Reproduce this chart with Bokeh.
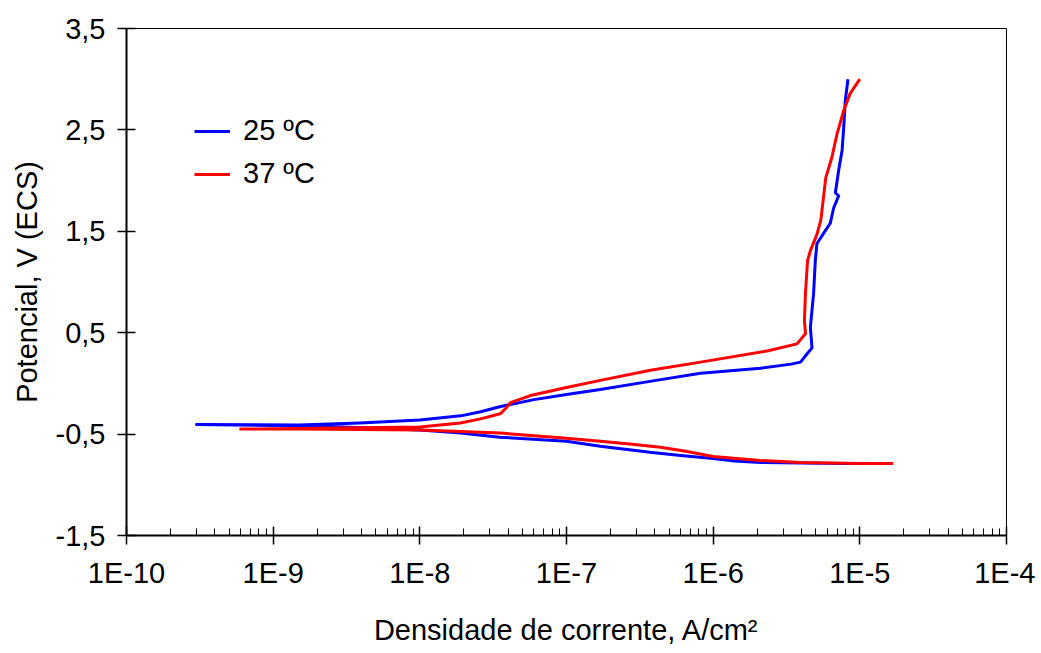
from bokeh.plotting import figure
from bokeh.models import FixedTicker, CustomJSTickFormatter, Legend, LegendItem
from bokeh.embed import file_html
from bokeh.resources import INLINE

# 25 ºC : cathodic end -> Ecorr -> anodic end
i_25 = [1.1e-5, 8.0e-6, 4.0e-6, 2.1e-6, 1.4e-6, 1.0e-6, 6.0e-7, 3.7e-7, 1.7e-7, 1.0e-7, 3.5e-8,
        1.9e-8, 1.0e-8, 3.0e-9, 1.0e-9, 3.0e-10,
        1.5e-9, 3.9e-9, 1.0e-8, 1.9e-8, 2.6e-8, 3.5e-8, 6.0e-8, 1.0e-7, 1.7e-7, 3.7e-7, 8.2e-7,
        2.1e-6, 3.4e-6, 3.94e-6, 4.36e-6, 4.72e-6, 4.6e-6, 4.84e-6, 4.97e-6, 5.1e-6, 5.66e-6,
        6.29e-6, 6.63e-6, 7.17e-6, 6.81e-6, 7.17e-6, 7.57e-6, 7.76e-6, 7.96e-6, 8.3e-6]
e_25 = [-0.79, -0.79, -0.785, -0.78, -0.765, -0.74, -0.71, -0.68, -0.62, -0.57, -0.53,
        -0.49, -0.46, -0.43, -0.415, -0.405,
        -0.41, -0.39, -0.36, -0.32, -0.28, -0.23, -0.16, -0.11, -0.06, 0.02, 0.10,
        0.15, 0.19, 0.21, 0.29, 0.35, 0.55, 0.89, 1.21, 1.38, 1.48,
        1.58, 1.73, 1.85, 1.88, 2.10, 2.30, 2.52, 2.79, 3.0]

# 37 ºC
i_37 = [1.69e-5, 1.0e-5, 3.94e-6, 2.1e-6, 1.0e-6, 6.5e-7, 4.37e-7, 2.8e-7, 1.7e-7, 1.0e-7,
        3.54e-8, 1.0e-8, 1.5e-9, 6.0e-10,
        1.5e-9, 1.0e-8, 1.89e-8, 2.59e-8, 3.54e-8, 3.83e-8, 4.15e-8, 5.68e-8, 1.0e-7,
        1.7e-7, 3.73e-7, 8.2e-7, 2.33e-6, 3.73e-6, 4.26e-6, 4.19e-6, 4.26e-6, 4.4e-6,
        4.6e-6, 5.1e-6, 5.42e-6, 5.86e-6, 6.45e-6, 6.99e-6, 7.76e-6, 8.6e-6, 1.0e-5]
e_37 = [-0.79, -0.79, -0.78, -0.76, -0.72, -0.67, -0.63, -0.60, -0.57, -0.54,
        -0.49, -0.46, -0.45, -0.45,
        -0.445, -0.43, -0.39, -0.35, -0.30, -0.25, -0.19, -0.12, -0.04,
        0.03, 0.13, 0.21, 0.32, 0.39, 0.49, 0.62, 0.89, 1.21,
        1.31, 1.47, 1.61, 2.03, 2.23, 2.46, 2.69, 2.86, 3.0]

x_ticks = [1e-10, 1e-9, 1e-8, 1e-7, 1e-6, 1e-5, 1e-4]
y_ticks = [-1.5, -0.5, 0.5, 1.5, 2.5, 3.5]
series_labels = ["25 ºC", "37 ºC"]

W, H = 1035, 650
p = figure(width=W, height=H, x_axis_type="log", x_range=(1e-10, 1e-4), y_range=(-1.5, 3.5),
           output_backend="svg", toolbar_location=None,
           min_border_left=126, min_border_right=W - 1006, min_border_top=28,
           min_border_bottom=H - 535)
p.xgrid.visible = False
p.ygrid.visible = False
p.outline_line_color = "black"
p.outline_line_width = 1
p.background_fill_color = "white"
p.border_fill_color = "white"

r1 = p.line(i_25, e_25, line_color="#0000FF", line_width=3, line_join="round")
r2 = p.line(i_37, e_37, line_color="#FF0000", line_width=3, line_join="round")

minor = [m * 10.0 ** d for d in range(-10, -4) for m in range(2, 10)]
p.xaxis.ticker = FixedTicker(ticks=x_ticks, minor_ticks=minor)
p.xaxis.formatter = CustomJSTickFormatter(code="return '1E' + Math.round(Math.log10(tick));")
p.yaxis.ticker = FixedTicker(ticks=y_ticks)
p.yaxis.formatter = CustomJSTickFormatter(code="return tick.toFixed(1).replace('.', ',');")

FS = "29px"
for ax in (p.xaxis[0], p.yaxis[0]):
    ax.axis_line_width = 2
    ax.axis_line_color = "black"
    ax.major_tick_line_color = "black"
    ax.major_tick_line_width = 1.5
    ax.major_tick_in = 9
    ax.major_tick_out = 9
    ax.major_label_text_font = "Liberation Sans"
    ax.major_label_text_font_size = FS
    ax.major_label_text_color = "black"
    ax.axis_label_text_font = "Liberation Sans"
    ax.axis_label_text_font_size = FS
    ax.axis_label_text_font_style = "normal"
    ax.axis_label_text_color = "black"

p.xaxis.minor_tick_line_color = "black"
p.xaxis.minor_tick_line_width = 1
p.xaxis.minor_tick_in = 7
p.xaxis.minor_tick_out = 0
p.yaxis.minor_tick_line_color = None
p.xaxis.major_label_standoff = 12
p.yaxis.major_label_standoff = 12
p.xaxis.axis_label = "Densidade de corrente, A/cm²"
p.yaxis.axis_label = "Potencial, V (ECS)"
p.xaxis.axis_label_standoff = 22
p.yaxis.axis_label_standoff = 10

legend = Legend(items=[LegendItem(label=series_labels[0], renderers=[r1]),
                       LegendItem(label=series_labels[1], renderers=[r2])],
                location=(68, 345))
legend.border_line_color = None
legend.background_fill_alpha = 0
legend.label_text_font = "Liberation Sans"
legend.label_text_font_size = FS
legend.label_text_color = "black"
legend.glyph_width = 36
legend.glyph_height = 30
legend.label_height = 30
legend.spacing = 10
legend.padding = 10
legend.margin = 0
legend.label_standoff = 13
p.add_layout(legend)

open("out.html", "w").write(file_html(p, INLINE))
